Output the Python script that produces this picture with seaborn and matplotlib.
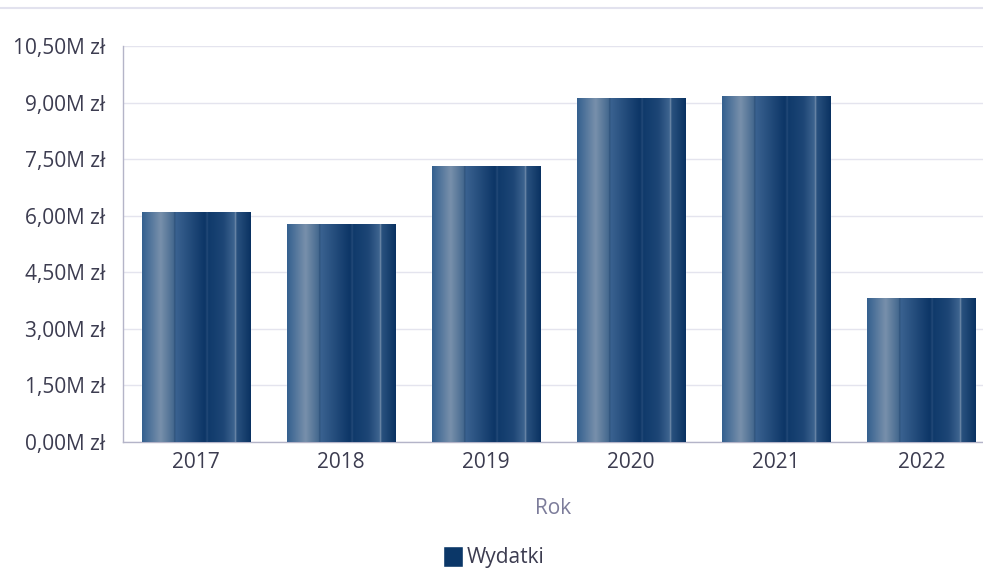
import numpy as np
import pandas as pd
import matplotlib
matplotlib.use("Agg")
import matplotlib.pyplot as plt
from matplotlib.colors import LinearSegmentedColormap
from matplotlib.ticker import FuncFormatter
import seaborn as sns

years = ["2017", "2018", "2019", "2020", "2021", "2022"]
spending = [6.10, 5.78, 7.32, 9.12, 9.18, 3.82]  # mln zł
series_name = "Wydatki"

df = pd.DataFrame({"Rok": years, series_name: spending})

sns.set_theme(style="white")
plt.rcParams["font.family"] = ["Open Sans", "DejaVu Sans"]

text_col = "#3c3c50"
fs = 15
fig = plt.figure(figsize=(9.83, 5.74), dpi=100)
ax = fig.add_axes([123 / 983, 1 - 442 / 574, 1 - 123 / 983, (442 - 46) / 574])

sns.barplot(data=df, x="Rok", y=series_name, color="#0b3768", width=0.745,
            saturation=1, ax=ax, zorder=2)

# cylinder-like shading across each bar
cmap = LinearSegmentedColormap.from_list("cyl", [
    (0.00, "#34608f"), (0.17, "#7890ab"), (0.29, "#45698f"), (0.30, "#2b4f78"),
    (0.31, "#3a6290"), (0.58, "#0c3566"), (0.60, "#244a78"), (0.61, "#0f3a6b"),
    (0.75, "#1e4676"), (0.85, "#3f6590"), (0.86, "#7c94b0"), (0.87, "#2a527f"),
    (1.00, "#0a3262")])
grad = np.linspace(0, 1, 256).reshape(1, -1)
for p in ax.patches:
    x0, y0 = p.get_x(), p.get_y()
    w, h = p.get_width(), p.get_height()
    im = ax.imshow(grad, cmap=cmap, aspect="auto", extent=[x0, x0 + w, y0, y0 + h],
                   zorder=3, interpolation="bilinear")
    im.set_clip_path(p)

ax.set_ylim(0, 10.5)
ax.set_yticks(np.arange(0, 10.51, 1.5))
ax.yaxis.set_major_formatter(FuncFormatter(lambda v, _: f"{v:.2f}".replace(".", ",") + "M zł"))
ax.set_xlim(-0.5, 5.5 - 11 / 145.3)
ax.grid(axis="y", color="#e4e4ee", linewidth=1, zorder=0)
ax.set_axisbelow(True)
for s in ["top", "right"]:
    ax.spines[s].set_visible(False)
for s in ["left", "bottom"]:
    ax.spines[s].set_color("#b4b4c8")
    ax.spines[s].set_linewidth(1)
ax.tick_params(axis="both", labelsize=fs, labelcolor=text_col, length=0)
ax.tick_params(axis="y", pad=13)
ax.tick_params(axis="x", pad=7)
ax.set_ylabel("")
ax.set_xlabel("Rok", fontsize=fs, color="#7c7c9a", labelpad=18)

# thin line at the top of the figure
fig.add_artist(plt.Line2D([0, 1], [1 - 8 / 574, 1 - 8 / 574], color="#e2e2ee",
                          linewidth=1.5, transform=fig.transFigure))

handle = plt.Rectangle((0, 0), 1, 1, facecolor="#0b3768")
fig.legend([handle], [series_name], loc="center", bbox_to_anchor=(494 / 983, 1 - 557 / 574),
           frameon=False, fontsize=fs, labelcolor=text_col, handlelength=0.95,
           handleheight=1.2, handletextpad=0.2)

fig.savefig("out.png", dpi=100)
